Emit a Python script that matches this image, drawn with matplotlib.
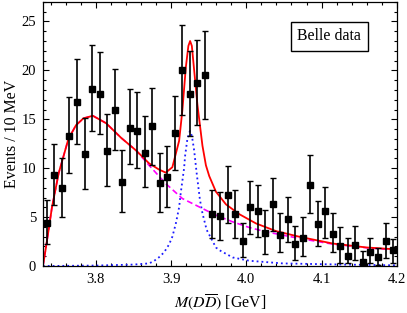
import matplotlib
matplotlib.use("Agg")
import matplotlib.pyplot as plt
from matplotlib.ticker import MultipleLocator

plt.rcParams["font.family"] = ["Liberation Serif", "DejaVu Serif"]
plt.rcParams["mathtext.fontset"] = "stix"

# Belle data, 10 MeV bins
mass = [3.735, 3.745, 3.755, 3.765, 3.775, 3.785, 3.795, 3.805, 3.815, 3.825,
        3.835, 3.845, 3.855, 3.865, 3.875, 3.885, 3.895, 3.905, 3.915, 3.925,
        3.935, 3.945, 3.955, 3.965, 3.975, 3.985, 3.995, 4.005, 4.015, 4.025,
        4.035, 4.045, 4.055, 4.065, 4.075, 4.085, 4.095, 4.105, 4.115, 4.125,
        4.135, 4.145, 4.155, 4.165, 4.175, 4.185, 4.195]
events = [4.45, 9.28, 7.95, 13.3, 16.8, 11.5, 18.1, 17.6, 11.8, 16.0,
          8.6, 14.1, 13.8, 11.6, 14.3, 8.5, 9.1, 13.6, 20.0, 17.6,
          18.7, 19.5, 5.3, 5.1, 7.3, 5.3, 2.6, 6.0, 5.6, 3.4,
          6.3, 3.2, 4.8, 2.3, 2.9, 8.3, 4.3, 5.6, 3.3, 2.1,
          1.05, 2.2, 0.4, 1.4, 0.9, 2.6, 1.6]
err_low_end = [2.24, 6.2, 5.0, 9.5, 12.5, 7.9, 13.8, 13.5, 8.2, 11.9,
               5.5, 10.4, 10.0, 8.1, 10.3, 5.5, 6.05, 9.8, 15.4, 13.3,
               14.4, 15.0, 2.85, 2.7, 4.4, 2.85, 0.9, 3.3, 3.0, 1.2,
               3.6, 1.4, 2.5, 0.6, 1.0, 5.4, 2.1, 2.9, 1.4, 0.3,
               0.27, 0.6, 0.07, 0.27, 0.07, 0.8, 0.27]
err_high_end = [6.8, 12.5, 11.0, 17.3, 21.2, 15.1, 22.6, 21.9, 15.5, 20.1,
                11.9, 18.1, 17.8, 15.3, 18.2, 11.55, 12.3, 17.4, 24.6, 22.0,
                23.1, 24.0, 7.8, 7.6, 10.2, 7.8, 4.4, 8.7, 8.3, 5.7,
                9.0, 5.4, 7.1, 4.05, 5.0, 11.3, 6.6, 8.1, 5.4, 4.0,
                2.9, 4.05, 1.5, 2.9, 1.8, 4.35, 2.8]

# fit curves
total_m = [3.7297, 3.7329, 3.7373, 3.7417, 3.7507, 3.7636, 3.7737, 3.7836,
           3.796, 3.8137, 3.8337, 3.8537, 3.8707, 3.884, 3.8929, 3.9017,
           3.9107, 3.915, 3.9196, 3.923, 3.9253, 3.9276, 3.9307, 3.935,
           3.9417, 3.9463, 3.9507, 3.9596, 3.973, 3.9907, 4.013, 4.0396,
           4.0707, 4.115, 4.1596, 4.2]
total_y = [0.0, 1.5, 3.7, 6.0, 9.5, 13.0, 14.4, 15.1,
           15.36, 14.6, 13.1, 11.8, 10.5, 9.86, 9.55, 10.1,
           12.8, 15.9, 20.3, 22.5, 23.0, 22.5, 20.0, 16.5,
           12.3, 10.3, 9.2, 7.6, 6.3, 5.3, 4.35, 3.57,
           2.99, 2.3, 1.9, 1.7]

bkg_m = [3.7297, 3.7329, 3.7373, 3.7417, 3.7507, 3.7636, 3.7737, 3.7836,
         3.796, 3.8137, 3.8337, 3.8537, 3.8707, 3.8929, 3.915, 3.9373,
         3.9596, 3.9818, 4.004, 4.0263, 4.0707, 4.115, 4.1596, 4.2]
bkg_y = [0.0, 1.5, 3.7, 6.0, 9.5, 13.0, 14.4, 15.1,
         15.36, 14.6, 13.1, 11.8, 10.3, 8.43, 6.9, 6.05,
         5.2, 4.52, 3.94, 3.5, 2.82, 2.24, 1.87, 1.63]

sig_m = [3.7297, 3.80, 3.85, 3.8707, 3.877, 3.884, 3.8907, 3.8973, 3.9017,
         3.9062, 3.9107, 3.9129, 3.9173, 3.9187, 3.9217, 3.925, 3.9277,
         3.9307, 3.934, 3.9383, 3.9417, 3.9473, 3.9507, 3.9596, 3.964,
         3.9818, 4.004, 4.0484, 4.115, 4.2]
sig_y = [0.0, 0.05, 0.15, 0.27, 0.5, 0.9, 1.4, 2.2, 3.0,
         4.3, 6.0, 7.5, 10.0, 11.3, 13.0, 13.8, 13.3,
         11.8, 9.5, 6.8, 5.4, 3.7, 3.2, 1.9, 1.63,
         0.88, 0.54, 0.27, 0.17, 0.07]

yerr = [[e - lo for e, lo in zip(events, err_low_end)],
        [hi - e for e, hi in zip(events, err_high_end)]]

fig = plt.figure(figsize=(4.07, 3.13), dpi=100)
ax = fig.add_axes([0.106, 0.150, 0.869, 0.844])

ax.plot(sig_m, sig_y, color="#1a1aff", lw=1.3, dashes=[1.0, 1.7])
ax.plot(bkg_m, bkg_y, color="#ff00ff", lw=1.2, dashes=[3.5, 2.0])
ax.plot(total_m, total_y, color="#ff0000", lw=1.3)
ax.errorbar(mass, events, yerr=yerr, fmt="s", color="black", ms=4.8,
            elinewidth=1.2, capsize=2.0, capthick=1.0, zorder=5)

ax.set_xlim(3.73, 4.2)
ax.set_ylim(0, 27)
ax.xaxis.set_major_locator(MultipleLocator(0.1))
ax.xaxis.set_minor_locator(MultipleLocator(0.02))
ax.yaxis.set_major_locator(MultipleLocator(5))
ax.yaxis.set_minor_locator(MultipleLocator(1))
ax.xaxis.set_major_formatter(matplotlib.ticker.FormatStrFormatter("%.1f"))
ax.tick_params(which="both", direction="in", top=True, right=True,
               labelsize=10.5, width=0.8)
ax.tick_params(which="major", length=4.5, pad=5)
ax.tick_params(which="minor", length=2.5)
for s in ax.spines.values():
    s.set_linewidth(0.9)

ax.set_xlabel(r"$M(D\overline{D})$ [GeV]", fontsize=11.4, labelpad=5)
ax.set_ylabel("Events / 10 MeV", fontsize=11.4, labelpad=1)

ax.text(0.809, 0.869, "Belle data", transform=ax.transAxes, ha="center",
        va="center", fontsize=11.4,
        bbox=dict(boxstyle="square,pad=0.4", fc="white", ec="black", lw=1.0))

fig.savefig("out.png", dpi=100)
